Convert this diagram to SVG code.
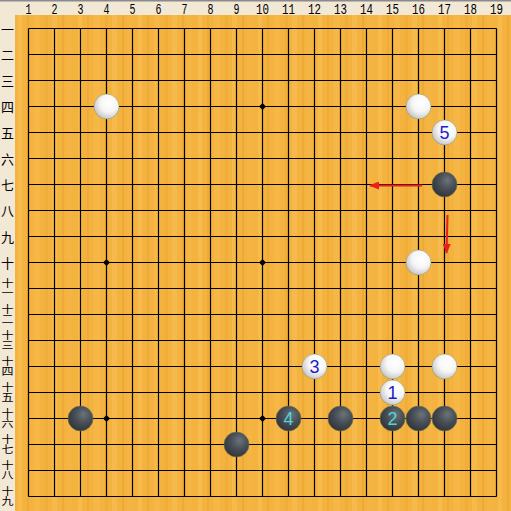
<svg xmlns="http://www.w3.org/2000/svg" width="511" height="511" viewBox="0 0 511 511">
<defs>
<pattern id="grain" x="15" y="0" width="60" height="511" patternUnits="userSpaceOnUse">
<rect x="0" y="0" width="60" height="511" fill="#f4b23f"/>
<rect x="3" y="0" width="4" height="511" fill="#f8bf55" opacity="0.6"/>
<rect x="12" y="0" width="2" height="511" fill="#e9a434" opacity="0.5"/>
<rect x="19" y="0" width="6" height="511" fill="#f7bb4e" opacity="0.5"/>
<rect x="30" y="0" width="3" height="511" fill="#eba736" opacity="0.5"/>
<rect x="37" y="0" width="5" height="511" fill="#f9c25a" opacity="0.45"/>
<rect x="47" y="0" width="2" height="511" fill="#e8a233" opacity="0.5"/>
<rect x="52" y="0" width="5" height="511" fill="#f6b84a" opacity="0.5"/>
</pattern>
<radialGradient id="gw" cx="0.6" cy="0.38" r="0.7" fx="0.62" fy="0.35">
<stop offset="0" stop-color="#ffffff"/>
<stop offset="0.5" stop-color="#f6f6f6"/>
<stop offset="0.85" stop-color="#cfcfd2"/>
<stop offset="1" stop-color="#a8a8ac"/>
</radialGradient>
<radialGradient id="gb" cx="0.6" cy="0.38" r="0.7" fx="0.62" fy="0.33">
<stop offset="0" stop-color="#6c737b"/>
<stop offset="0.45" stop-color="#4a5058"/>
<stop offset="0.85" stop-color="#35393f"/>
<stop offset="1" stop-color="#2a2c2f"/>
</radialGradient>
<marker id="ah" markerUnits="userSpaceOnUse" markerWidth="10" markerHeight="8" refX="9" refY="4" orient="auto">
<path d="M0,0 L10,4 L0,8 Z" fill="#e8201c"/>
</marker>
<style>
.w{fill:url(#gw);stroke:#8c9a6a;stroke-opacity:0.55;stroke-width:1}
.b{fill:url(#gb);stroke:#6a7450;stroke-opacity:0.6;stroke-width:1}
.col{font-family:"Liberation Mono",monospace;font-size:15px;fill:#000;text-anchor:middle}
.row{font-family:"Noto Sans CJK SC","Noto Sans CJK JP",sans-serif;font-size:13px;fill:#000;text-anchor:middle;dominant-baseline:central}
.rowv{font-family:"Noto Sans CJK SC","Noto Sans CJK JP",sans-serif;font-size:12px;fill:#000;text-anchor:middle;writing-mode:vertical-rl}
.nw{font-family:"Liberation Sans",sans-serif;font-size:18px;fill:#1c1cc8;text-anchor:middle;dominant-baseline:central}
.nb{font-family:"Liberation Sans",sans-serif;font-size:18px;fill:#4fd6da;text-anchor:middle;dominant-baseline:central}
.arr{stroke:#e8201c;stroke-width:2;fill:none}
</style>
</defs>
<rect x="0" y="0" width="511" height="511" fill="#f2e8d6"/>
<rect x="0" y="0" width="511" height="1.5" fill="#8a8a8a"/>
<rect x="15" y="15" width="496" height="496" fill="url(#grain)"/>
<g id="coords">
<text class="col" x="28.5" y="14" textLength="6" lengthAdjust="spacingAndGlyphs">1</text>
<text class="col" x="54.5" y="14" textLength="6" lengthAdjust="spacingAndGlyphs">2</text>
<text class="col" x="80.5" y="14" textLength="6" lengthAdjust="spacingAndGlyphs">3</text>
<text class="col" x="106.5" y="14" textLength="6" lengthAdjust="spacingAndGlyphs">4</text>
<text class="col" x="132.5" y="14" textLength="6" lengthAdjust="spacingAndGlyphs">5</text>
<text class="col" x="158.5" y="14" textLength="6" lengthAdjust="spacingAndGlyphs">6</text>
<text class="col" x="184.5" y="14" textLength="6" lengthAdjust="spacingAndGlyphs">7</text>
<text class="col" x="210.5" y="14" textLength="6" lengthAdjust="spacingAndGlyphs">8</text>
<text class="col" x="236.5" y="14" textLength="6" lengthAdjust="spacingAndGlyphs">9</text>
<text class="col" x="262.5" y="14" textLength="13" lengthAdjust="spacingAndGlyphs">10</text>
<text class="col" x="288.5" y="14" textLength="13" lengthAdjust="spacingAndGlyphs">11</text>
<text class="col" x="314.5" y="14" textLength="13" lengthAdjust="spacingAndGlyphs">12</text>
<text class="col" x="340.5" y="14" textLength="13" lengthAdjust="spacingAndGlyphs">13</text>
<text class="col" x="366.5" y="14" textLength="13" lengthAdjust="spacingAndGlyphs">14</text>
<text class="col" x="392.5" y="14" textLength="13" lengthAdjust="spacingAndGlyphs">15</text>
<text class="col" x="418.5" y="14" textLength="13" lengthAdjust="spacingAndGlyphs">16</text>
<text class="col" x="444.5" y="14" textLength="13" lengthAdjust="spacingAndGlyphs">17</text>
<text class="col" x="470.5" y="14" textLength="13" lengthAdjust="spacingAndGlyphs">18</text>
<text class="col" x="496.5" y="14" textLength="13" lengthAdjust="spacingAndGlyphs">19</text>
<text class="row" x="7.5" y="28.5">一</text>
<text class="row" x="7.5" y="54.5">二</text>
<text class="row" x="7.5" y="80.5">三</text>
<text class="row" x="7.5" y="106.5">四</text>
<text class="row" x="7.5" y="132.5">五</text>
<text class="row" x="7.5" y="158.5">六</text>
<text class="row" x="7.5" y="184.5">七</text>
<text class="row" x="7.5" y="210.5">八</text>
<text class="row" x="7.5" y="236.5">九</text>
<text class="row" x="7.5" y="262.5">十</text>
<text class="rowv" transform="translate(7.5,288.5) scale(1,0.82)">十一</text>
<text class="rowv" transform="translate(7.5,314.5) scale(1,0.82)">十二</text>
<text class="rowv" transform="translate(7.5,340.5) scale(1,0.82)">十三</text>
<text class="rowv" transform="translate(7.5,366.5) scale(1,0.82)">十四</text>
<text class="rowv" transform="translate(7.5,392.5) scale(1,0.82)">十五</text>
<text class="rowv" transform="translate(7.5,418.5) scale(1,0.82)">十六</text>
<text class="rowv" transform="translate(7.5,444.5) scale(1,0.82)">十七</text>
<text class="rowv" transform="translate(7.5,470.5) scale(1,0.82)">十八</text>
<text class="rowv" transform="translate(7.5,496.5) scale(1,0.82)">十九</text>
</g>
<g id="grid" stroke="#000" stroke-width="1.2" fill="none">
<path d="M28.5,28.5V496.5M54.5,28.5V496.5M80.5,28.5V496.5M106.5,28.5V496.5M132.5,28.5V496.5M158.5,28.5V496.5M184.5,28.5V496.5M210.5,28.5V496.5M236.5,28.5V496.5M262.5,28.5V496.5M288.5,28.5V496.5M314.5,28.5V496.5M340.5,28.5V496.5M366.5,28.5V496.5M392.5,28.5V496.5M418.5,28.5V496.5M444.5,28.5V496.5M470.5,28.5V496.5M496.5,28.5V496.5"/>
<path d="M28.5,28.5H496.5M28.5,54.5H496.5M28.5,80.5H496.5M28.5,106.5H496.5M28.5,132.5H496.5M28.5,158.5H496.5M28.5,184.5H496.5M28.5,210.5H496.5M28.5,236.5H496.5M28.5,262.5H496.5M28.5,288.5H496.5M28.5,314.5H496.5M28.5,340.5H496.5M28.5,366.5H496.5M28.5,392.5H496.5M28.5,418.5H496.5M28.5,444.5H496.5M28.5,470.5H496.5M28.5,496.5H496.5"/>
</g>
<g id="hoshi" fill="#000">
<path d="M262.5,103L266,106.5L262.5,110L259,106.5Z"/>
<path d="M106.5,259L110,262.5L106.5,266L103,262.5Z"/>
<path d="M262.5,259L266,262.5L262.5,266L259,262.5Z"/>
<path d="M106.5,415L110,418.5L106.5,422L103,418.5Z"/>
<path d="M262.5,415L266,418.5L262.5,422L259,418.5Z"/>
</g>
<g id="connectors">
<line class="arr" x1="422" y1="185.5" x2="370" y2="185.5" marker-end="url(#ah)"/>
<line class="arr" x1="447.5" y1="215" x2="446.5" y2="253" marker-end="url(#ah)"/>
</g>
<g id="w-4-4"><circle class="w" cx="106.5" cy="106.5" r="12.5"/></g>
<g id="w-16-4"><circle class="w" cx="418.5" cy="106.5" r="12.5"/></g>
<g id="w-17-5"><circle class="w" cx="444.5" cy="132.5" r="12.5"/><text class="nw" x="444.5" y="133">5</text></g>
<g id="b-17-7"><circle class="b" cx="444.5" cy="184.5" r="12.5"/></g>
<g id="w-16-10"><circle class="w" cx="418.5" cy="262.5" r="12.5"/></g>
<g id="w-12-14"><circle class="w" cx="314.5" cy="366.5" r="12.5"/><text class="nw" x="314.5" y="367">3</text></g>
<g id="w-15-14"><circle class="w" cx="392.5" cy="366.5" r="12.5"/></g>
<g id="w-17-14"><circle class="w" cx="444.5" cy="366.5" r="12.5"/></g>
<g id="w-15-15"><circle class="w" cx="392.5" cy="392.5" r="12.5"/><text class="nw" x="392.5" y="393">1</text></g>
<g id="b-3-16"><circle class="b" cx="80.5" cy="418.5" r="12.5"/></g>
<g id="b-11-16"><circle class="b" cx="288.5" cy="418.5" r="12.5"/><text class="nb" x="288.5" y="419">4</text></g>
<g id="b-13-16"><circle class="b" cx="340.5" cy="418.5" r="12.5"/></g>
<g id="b-15-16"><circle class="b" cx="392.5" cy="418.5" r="12.5"/><text class="nb" x="392.5" y="419">2</text></g>
<g id="b-16-16"><circle class="b" cx="418.5" cy="418.5" r="12.5"/></g>
<g id="b-17-16"><circle class="b" cx="444.5" cy="418.5" r="12.5"/></g>
<g id="b-9-17"><circle class="b" cx="236.5" cy="444.5" r="12.5"/></g>
</svg>
